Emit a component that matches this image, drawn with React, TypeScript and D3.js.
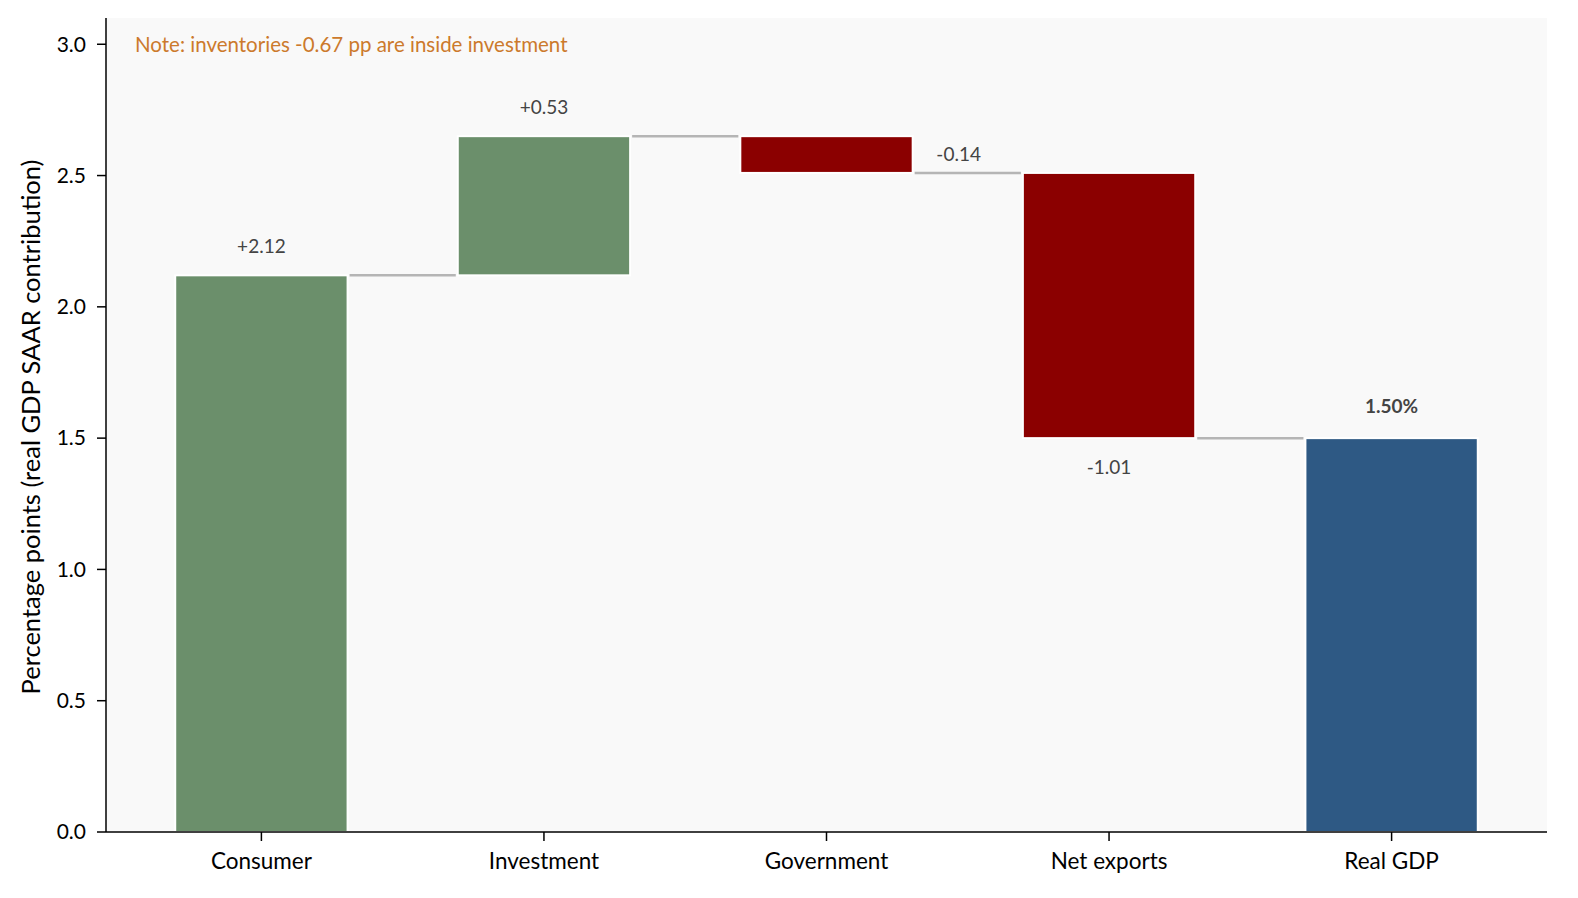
import * as d3 from "d3"

const CATEGORIES = ["Consumer", "Investment", "Government", "Net exports", "Real GDP"]
const CONTRIBUTIONS = [2.12, 0.53, -0.14, -1.01]
const TOTAL = 1.5
const Y_TICKS = [0, 0.5, 1.0, 1.5, 2.0, 2.5, 3.0]
const Y_MAX = 3.1
const NOTE = "Note: inventories -0.67 pp are inside investment"
const Y_LABEL = "Percentage points (real GDP SAAR contribution)"

const WIDTH = 1578
const HEIGHT = 898
const MARGIN = { top: 18, right: 31, bottom: 66, left: 106 }

const POS_COLOR = "#6b8f6b"
const NEG_COLOR = "#8b0000"
const TOTAL_COLOR = "#2e5984"
const FONT = "Lato, 'Noto Sans', sans-serif"

type Step = {
  name: string
  start: number
  end: number
  value: number
  kind: "pos" | "neg" | "total"
}

export default function App() {
  const steps: Step[] = []
  let running = 0
  CONTRIBUTIONS.forEach((value, i) => {
    const start = running
    running += value
    steps.push({
      name: CATEGORIES[i],
      start,
      end: running,
      value,
      kind: value >= 0 ? "pos" : "neg",
    })
  })
  steps.push({ name: CATEGORIES[4], start: 0, end: TOTAL, value: TOTAL, kind: "total" })

  const x = d3
    .scaleBand<string>()
    .domain(CATEGORIES)
    .range([MARGIN.left, WIDTH - MARGIN.right])
    .paddingInner(0.39)
    .paddingOuter(0.245)

  const y = d3
    .scaleLinear()
    .domain([0, Y_MAX])
    .range([HEIGHT - MARGIN.bottom, MARGIN.top])

  const bw = x.bandwidth()
  const x0 = MARGIN.left
  const x1 = WIDTH - MARGIN.right
  const yBase = y(0)

  const colorOf = (s: Step) =>
    s.kind === "pos" ? POS_COLOR : s.kind === "neg" ? NEG_COLOR : TOTAL_COLOR

  const fmt = (v: number) => (v >= 0 ? "+" : "") + v.toFixed(2)

  return (
    <svg
      width={WIDTH}
      height={HEIGHT}
      style={{ position: "absolute", left: 0, top: 0, background: "white" }}
      fontFamily={FONT}
    >
      <rect x={x0} y={MARGIN.top} width={x1 - x0} height={yBase - MARGIN.top} fill="#f9f9f9" />

      {/* connectors */}
      {steps.slice(0, -1).map((s, i) => {
        const next = steps[i + 1]
        return (
          <line
            key={"c" + i}
            x1={(x(s.name) ?? 0) + bw + 2}
            x2={(x(next.name) ?? 0) - 2}
            y1={y(s.end)}
            y2={y(s.end)}
            stroke="#b5b5b5"
            strokeWidth={2.5}
          />
        )
      })}

      {/* bars */}
      {steps.map((s) => {
        const top = y(Math.max(s.start, s.end))
        const bottom = y(Math.min(s.start, s.end))
        return (
          <rect
            key={s.name}
            x={x(s.name)}
            y={top}
            width={bw}
            height={bottom - top}
            fill={colorOf(s)}
            stroke="white"
            strokeWidth={2}
          />
        )
      })}

      {/* value labels */}
      {steps.map((s) => {
        const cx = (x(s.name) ?? 0) + bw / 2
        if (s.kind === "total") {
          return (
            <text
              key={"l" + s.name}
              x={cx}
              y={y(s.end) - 25}
              textAnchor="middle"
              fontSize={19}
              fontWeight={700}
              fill="#444"
            >
              {s.value.toFixed(2) + "%"}
            </text>
          )
        }
        if (Math.abs(s.value) < 0.2) {
          return (
            <text
              key={"l" + s.name}
              x={(x(s.name) ?? 0) + bw + 46}
              y={(y(s.start) + y(s.end)) / 2}
              dy="0.35em"
              textAnchor="middle"
              fontSize={19}
              fill="#444"
            >
              {fmt(s.value)}
            </text>
          )
        }
        const ly = s.value >= 0 ? y(s.end) - 22 : y(s.end) + 36
        return (
          <text
            key={"l" + s.name}
            x={cx}
            y={ly}
            textAnchor="middle"
            fontSize={19}
            fill="#444"
          >
            {fmt(s.value)}
          </text>
        )
      })}

      {/* note */}
      <text x={x0 + 29} y={MARGIN.top + 34} fontSize={20.5} fill="#cc7a2c">
        {NOTE}
      </text>

      {/* y axis */}
      <line x1={x0} x2={x0} y1={MARGIN.top} y2={yBase} stroke="black" strokeWidth={1.5} />
      {Y_TICKS.map((t) => (
        <g key={"yt" + t} transform={`translate(0,${y(t)})`}>
          <line x1={x0 - 9} x2={x0} stroke="black" strokeWidth={1.5} />
          <text x={x0 - 20} dy="0.35em" textAnchor="end" fontSize={21} fill="black">
            {t.toFixed(1)}
          </text>
        </g>
      ))}

      {/* x axis */}
      <line x1={x0} x2={x1} y1={yBase} y2={yBase} stroke="black" strokeWidth={1.5} />
      {CATEGORIES.map((c) => {
        const cx = (x(c) ?? 0) + bw / 2
        return (
          <g key={"xt" + c} transform={`translate(${cx},${yBase})`}>
            <line y1={0} y2={9} stroke="black" strokeWidth={1.5} />
            <text y={37} textAnchor="middle" fontSize={22.5} fill="black">
              {c}
            </text>
          </g>
        )
      })}

      <text
        transform={`translate(40,${(MARGIN.top + yBase) / 2 + 2}) rotate(-90)`}
        textAnchor="middle"
        fontSize={25.5}
        fill="black"
      >
        {Y_LABEL}
      </text>
    </svg>
  )
}
